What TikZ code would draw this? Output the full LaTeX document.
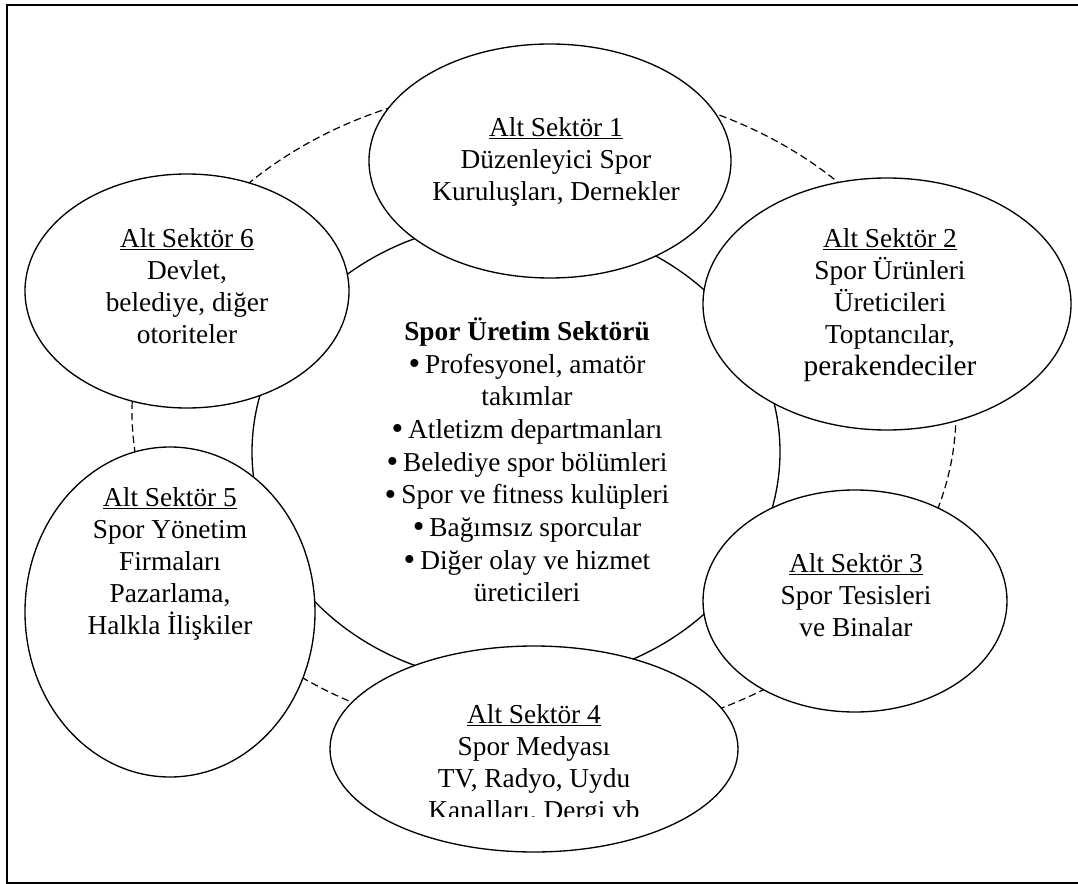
\documentclass[tikz,border=0pt]{standalone}
\usepackage{fontspec}
\setmainfont{Liberation Serif}
\usetikzlibrary{shapes.geometric}
% fixed ascent for the first line of every text block
\newcommand\sectstrut{\rule{0pt}{19pt}}
% list bullet followed by a small gap
\newcommand\itembullet{{\fontsize{25}{24}\selectfont\raisebox{-0.04em}{•}}\hspace{0.18em}}
\begin{document}
\begin{tikzpicture}[x=0.75pt,y=-0.75pt,
  frame/.style={draw, line width=1.3pt},
  ring/.style={ellipse, draw, line width=0.9pt, dash pattern=on 5.5pt off 3pt, inner sep=0pt},
  core/.style={ellipse, draw, line width=1pt, inner sep=0pt},
  sector/.style={ellipse, draw, fill=white, line width=1pt, inner sep=0pt},
  txt/.style={anchor=north, align=center, inner sep=0pt, font=\fontsize{20.5}{24}\selectfont},
  coretxt/.style={anchor=north, align=center, inner sep=0pt, font=\fontsize{20.5}{24.5}\selectfont}]
\useasboundingbox (0,0) rectangle (1078,884);

% outer frame (its right side runs past the page edge)
\draw[frame] (7,5) rectangle (1100,883);

% dashed outer ring and the central ellipse
\node[ring, minimum width=618pt, minimum height=492pt] (ring) at (544,412) {};
\node[core, minimum width=396pt, minimum height=346.5pt] (core) at (516,452) {};

% the six sub-sector ellipses
\node[sector, minimum width=271.5pt, minimum height=175.5pt] (e1) at (550,161) {};
\node[sector, minimum width=276pt,   minimum height=189pt]   (e2) at (887,304) {};
\node[sector, minimum width=228pt,   minimum height=166.5pt] (e3) at (855,601) {};
\node[sector, minimum width=306pt,   minimum height=154.5pt] (e4) at (534,749) {};
\node[sector, minimum width=217.5pt, minimum height=247.5pt] (e5) at (170,612) {};
\node[sector, minimum width=243pt,   minimum height=175.5pt] (e6) at (187,291) {};

% texts
\node[txt] (t1) at (556,111) {\sectstrut\underline{Alt Sektör 1}\\Düzenleyici Spor\\Kuruluşları, Dernekler};
\node[txt] (t2) at (890,222) {\sectstrut\underline{Alt Sektör 2}\\Spor Ürünleri\\Üreticileri\\Toptancılar,\\{\fontsize{22}{24}\selectfont perakendeciler}};
\node[txt] (t3) at (856,547) {\sectstrut\underline{Alt Sektör 3}\\Spor Tesisleri\\ve Binalar};
\begin{scope}
  % the last line of this block is cut off just above its baseline
  \clip (300,650) rectangle (770,816);
  \node[txt] (t4) at (534,698) {\sectstrut\underline{Alt Sektör 4}\\Spor Medyası\\TV, Radyo, Uydu\\Kanalları, Dergi vb};
\end{scope}
\node[txt] (t5) at (170,481) {\sectstrut\underline{Alt Sektör 5}\\Spor Yönetim\\Firmaları\\Pazarlama,\\Halkla İlişkiler};
\node[txt] (t6) at (187,222) {\sectstrut\underline{Alt Sektör 6}\\Devlet,\\belediye, diğer\\otoriteler};

\node[coretxt] (tc) at (527,315) {\sectstrut\textbf{Spor Üretim Sektörü}\\
  \itembullet Profesyonel, amatör\\takımlar\\
  \itembullet Atletizm departmanları\\
  \itembullet Belediye spor bölümleri\\
  \itembullet Spor ve fitness kulüpleri\\
  \itembullet Bağımsız sporcular\\
  \itembullet Diğer olay ve hizmet\\üreticileri};
\end{tikzpicture}
\end{document}
